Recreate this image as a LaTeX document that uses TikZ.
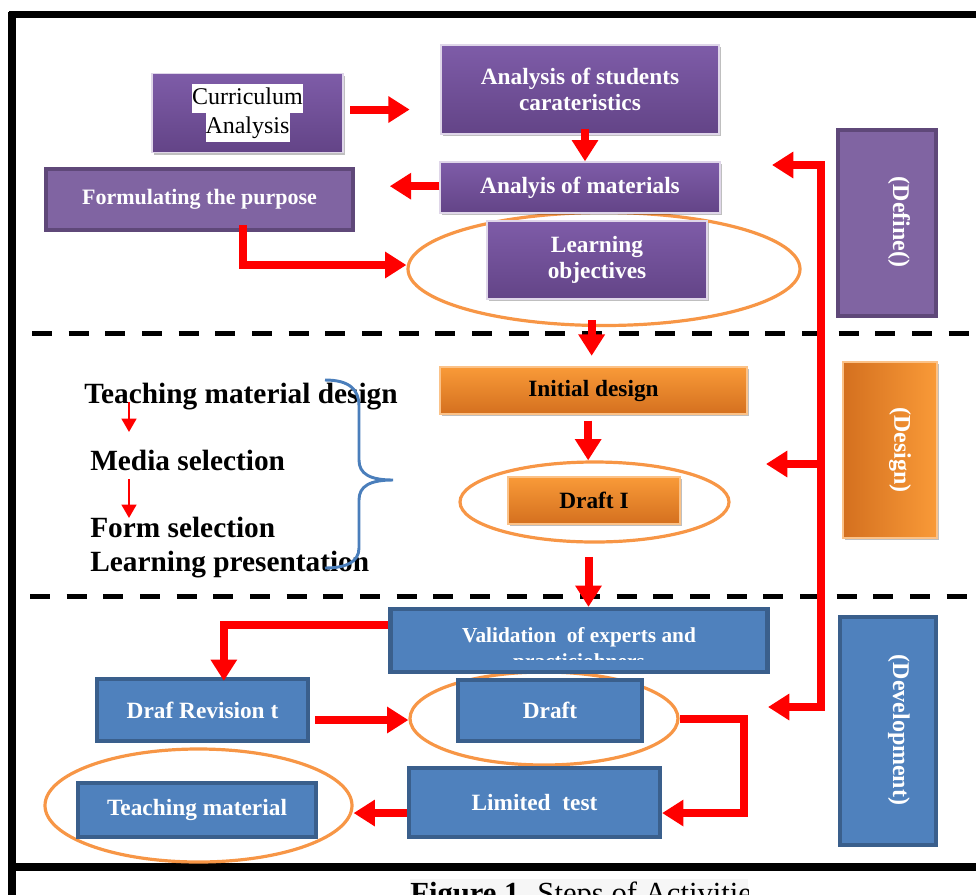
\documentclass[tikz,border=0pt]{standalone}
\usepackage{fontspec}
\setmainfont{Liberation Serif}
\usetikzlibrary{arrows.meta,shadows,shapes.geometric}
\definecolor{purA}{HTML}{7E5CA8}
\definecolor{purB}{HTML}{634487}
\definecolor{purF}{HTML}{8064A2}
\definecolor{purD}{HTML}{5F4879}
\definecolor{orA}{HTML}{F99A38}
\definecolor{orB}{HTML}{D4701F}
\definecolor{bluF}{HTML}{4F81BD}
\definecolor{bluD}{HTML}{3A5F8C}
\definecolor{ellC}{HTML}{F79646}
\definecolor{braceC}{HTML}{4A7EBB}
\definecolor{redC}{HTML}{FF0000}
\newcommand{\whitehl}[1]{{\setlength{\fboxsep}{0pt}\colorbox{white}{\strut #1}}}
\begin{document}
\begin{tikzpicture}[x=0.75pt,y=-0.75pt,
  wh/.style 2 args={minimum width=#1*0.75pt, minimum height=#2*0.75pt, inner sep=0pt},
  shad/.style={drop shadow={shadow xshift=1.8pt, shadow yshift=-1.8pt, opacity=0.25, fill=black}},
  boxfont/.style={font=\fontsize{17.5}{20}\selectfont\bfseries},
  pgrad/.style={shad, top color=purA, bottom color=purB, draw=white!75!purA, line width=1pt, text=white, boxfont, align=center},
  pflat/.style={shad, fill=purF, draw=purD, line width=3.2pt, text=white, boxfont, align=center},
  ograd/.style={shad, top color=orA, bottom color=orB, draw=orA!60!white, line width=0.8pt, text=black, boxfont, align=center},
  bbox/.style={shad, fill=bluF, draw=bluD, line width=3.2pt, text=white, boxfont, align=center},
  ring/.style={ellipse, draw=ellC, line width=2.4pt, inner sep=0pt},
  lbl/.style={text=white, font=\fontsize{18}{20}\selectfont\bfseries, inner sep=0pt},
  sidetxt/.style={text=black, font=\fontsize{22}{26}\selectfont\bfseries, inner sep=0pt, anchor=base west},
  redarr/.style={draw=redC, line width=6pt, line join=miter, -{Triangle[width=19pt,length=16pt]}},
  redline/.style={draw=redC, line width=6pt, line cap=rect},
  thinarr/.style={draw=redC, line width=1.8pt, -{Triangle[width=11pt,length=10pt]}},
  dashline/.style={draw=black, line width=3.75pt, dash pattern=on 15pt off 12.5pt},
  frame/.style={draw=black, line width=5.5pt}
]
\useasboundingbox (0,0) rectangle (976,894);

% caption background and text (cut by the page edge)
\fill[gray!7] (410,879) rectangle (748,900);
\begin{scope}
  \clip (408,870) rectangle (748,900);
  \node[anchor=base west, inner sep=0pt, font=\fontsize{23}{26}\selectfont] (cap) at (410,903) {\textbf{Figure 1.} Steps of Activities};
\end{scope}

% frame
\draw[frame] (12,12) -- (12,900);
\draw[frame] (9,14.5) -- (980,14.5);
\draw[frame] (9,867) -- (980,867);

% dashed separators
\draw[dashline] (32,333) -- (980,333);
\draw[dashline] (30,596) -- (980,596);

% rings
\node[ring, wh={392}{113}] (e1) at (604,269) {};
\node[ring, wh={269}{80}] (e2) at (594.5,502) {};
\node[ring, wh={268}{93}] (e3) at (544,718.5) {};
\node[ring, wh={307}{113}] (e4) at (198.5,805.5) {};

% define stage
\node[pgrad, wh={191}{79}, font=\fontsize{18}{21.5}\selectfont, text=black] (cur) at (247.5,113) {\whitehl{Curriculum}\\\whitehl{Analysis}};
\node[pgrad, wh={278}{89}] (ans) at (580,89.5) {Analysis of students\\carateristics};
\node[pgrad, wh={280}{51}] (anm) at (580,187.5) {Analyis of materials};
\node[pflat, wh={307}{61}, font=\fontsize{16.5}{20}\selectfont\bfseries] (fp) at (199.5,199.5) {Formulating the purpose};
\node[pgrad, wh={220}{78}] (lo) at (597,260) {Learning\\objectives};
\node[pflat, wh={98}{186}] (def) at (887,223) {};
\node[lbl, rotate=-90] (deft) at (899,222) {(Define()};

% design stage
\node[ograd, wh={307}{47}] (ini) at (593.5,390.5) {Initial design};
\node[ograd, wh={172}{47}] (d1) at (594,500.5) {Draft I};
\node[shad, left color=orB, right color=orA, draw=orA!60!white, line width=0.8pt, wh={94}{176}] (des) at (890,450) {};
\node[lbl, rotate=-90] (dest) at (900,450) {(Design)};

\node[sidetxt] (tmd) at (84,403) {Teaching material design};
\node[sidetxt] (ms) at (90,470) {Media selection};
\node[sidetxt] (fs) at (90,537) {Form selection};
\node[sidetxt] (lp) at (90,571) {Learning presentation};

% development stage
\node[bbox, wh={377}{63}] (val) at (579,640.5) {};
\begin{scope}
  \clip (395,612) rectangle (763,659);
  \node[anchor=north, text=white, font=\fontsize{16}{20}\selectfont\bfseries, align=center, inner sep=0pt] (valt) at (579,627) {Validation\ \ of experts and\\practiciohners};
\end{scope}
\node[bbox, wh={184}{61}] (dr) at (550,710.5) {Draft};
\node[bbox, wh={211}{62}] (dre) at (202.5,710) {Draf Revision t};
\node[bbox, wh={251}{69}] (lt) at (534.5,802.5) {Limited\ \ test};
\node[bbox, wh={238}{54}] (tm) at (197,810) {Teaching material};
\node[bbox, wh={96}{228}] (dev) at (888,731) {};
\node[lbl, rotate=-90] (devt) at (899,730) {(Development)};

% brace
\draw[braceC, line width=2.2pt] (325,380) .. controls (350,380) and (359,390) .. (359,406) -- (359,460) .. controls (359,474) and (370,480) .. (393,480) .. controls (370,480) and (359,486) .. (359,500) -- (359,548) .. controls (359,562) and (346,568) .. (325,568);

% thin arrows in the list
\coordinate (a1s) at (129,402);
\coordinate (a1e) at (129,432);
\coordinate (a2s) at (129,479);
\coordinate (a2e) at (129,518);
\draw[thinarr] (a1s) -- (a1e);
\draw[thinarr] (a2s) -- (a2e);

% red connectors
\draw[redarr, shorten <=5pt, shorten >=23pt] ([yshift=2.6pt]cur.east) -- ([yshift=2.6pt]cur.east -| ans.west);
\draw[redarr, shorten <=-4.5pt] ([xshift=3.75pt]ans.south) -- ([xshift=3.75pt]anm.north);
\draw[redarr, shorten >=26pt] ([yshift=1pt]anm.west) -- ([yshift=1pt]anm.west -| fp.east);
\draw[redarr, shorten <=-5pt] ([xshift=32.6pt]fp.south) |- ([yshift=3pt]e1.west);
\draw[redarr, shorten <=-5pt, shorten >=8pt] ([xshift=-4pt]lo.south |- e1.south) -- ([xshift=-4pt]lo.south |- ini.north);
\draw[redarr, shorten <=4.5pt] ([xshift=-4pt]ini.south) -- ([xshift=-4pt]ini.south |- e2.north);
\draw[redarr, shorten <=10pt] ([xshift=-4.5pt]e2.south) -- ([xshift=-4.5pt]e2.south |- val.north);
\draw[redarr, shorten >=-3pt] ([yshift=11.6pt]val.west) -| ([xshift=16pt]dre.north);
\draw[redarr, shorten <=4pt] ([yshift=-7.5pt]dre.east) -- ([yshift=-7.5pt]dre.east -| e3.west);
\draw[redarr] (e3.east) -- ++(64,0) |- ([yshift=-7.9pt]lt.east);
\draw[redarr] ([yshift=-7.9pt]lt.west) -- ([yshift=-7.9pt]lt.west -| e4.east);

% feedback line on the right
\coordinate (r1) at (821,165);
\coordinate (r2) at (821,464);
\coordinate (r3) at (821,707);
\coordinate (t1) at (772,165);
\coordinate (t2) at (766,464);
\coordinate (t3) at (768,707);
\draw[redline] (r1) -- (r3);
\draw[redarr] (r1) -- (t1);
\draw[redarr] (r2) -- (t2);
\draw[redarr] (r3) -- (t3);
\end{tikzpicture}
\end{document}
